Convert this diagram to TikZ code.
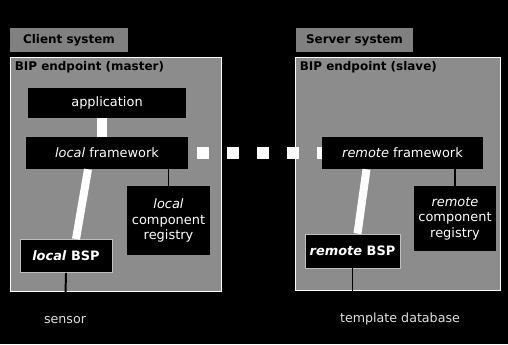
\documentclass[tikz,border=0pt]{standalone}
\usepackage{fontspec}
\setmainfont{DejaVu Sans}
\usetikzlibrary{calc}

\tikzset{
    sysbox/.style={rectangle,fill=black!50,inner sep=0pt,text=black,
        font=\fontsize{8.5}{10}\selectfont\bfseries},
    endpoint/.style={rectangle,draw=white,line width=0.6pt,fill=black!45},
    eptitle/.style={anchor=west,inner sep=0pt,text=black,
        font=\fontsize{8.5}{10}\selectfont\bfseries},
    partbox/.style={rectangle,fill=black,text=white,inner sep=0pt,align=center,
        font=\fontsize{9.2}{11}\selectfont},
    bspbox/.style={partbox,draw=black!25,line width=0.6pt},
    outside/.style={text=black!12,inner sep=1pt,font=\fontsize{9}{11}\selectfont},
    bar/.style={white,line width=5.7pt},
    wire/.style={black,line width=1.4pt},
}

\begin{document}
\begin{tikzpicture}[x=0.025cm,y=-0.025cm]
    \fill[black] (0,0) rectangle (508,344);
    \useasboundingbox (0,0) rectangle (508,344);

    % the two systems
    \node at (69,40) [sysbox,minimum width=2.95cm,minimum height=0.6cm] (client) {Client system};
    \node at (354.5,40) [sysbox,minimum width=2.925cm,minimum height=0.6cm] (server) {Server system};
    \node at (115.5,174) [endpoint,minimum width=5.275cm,minimum height=5.85cm] (master) {};
    \node at (397.5,173.5) [endpoint,minimum width=5.125cm,minimum height=5.825cm] (slave) {};
    \node at ($(master.north west)+(5,11)$) [eptitle] (mastertitle) {BIP endpoint (master)};
    \node at ($(slave.north west)+(5,11)$) [eptitle] (slavetitle) {BIP endpoint (slave)};

    % client side
    \node at (107,103) [partbox,minimum width=3.95cm,minimum height=0.75cm] (application) {application};
    \node at (107,153) [partbox,minimum width=4.05cm,minimum height=0.8cm] (localfw) {\textit{local} framework};
    \node at (66,256) [bspbox,minimum width=2.3cm,minimum height=0.825cm] (localbsp) {\textbf{\textit{local} BSP}};
    \node at (168.5,220.5) [partbox,minimum width=2.075cm,minimum height=1.725cm] (localreg) {\textit{local}\\component\\registry};
    \node at (65,320) [outside] (sensor) {sensor};

    % server side
    \node at (402.5,153) [partbox,minimum width=4.025cm,minimum height=0.8cm] (remotefw) {\textit{remote} framework};
    \node at (352.5,251) [bspbox,minimum width=2.375cm,minimum height=0.85cm] (remotebsp) {\textbf{\textit{remote} BSP}};
    \node at (455,218.5) [partbox,minimum width=2.05cm,minimum height=1.625cm] (remotereg) {\textit{remote}\\component\\registry};
    \node at (400,319) [outside] (template) {template database};

    % links
    \draw[white,line width=7pt] ($(application.south)+(-5,0)$) -- ($(localfw.north)+(-5,0)$);
    \draw[bar] ($(localfw.south)+(-19,0)$) -- ($(localbsp.north)+(10,0)$);
    \draw[wire] (localfw.south -| localreg.north) -- (localreg.north);
    \draw[wire] (localbsp.south) -- (sensor.north);
    \draw[bar] ($(remotefw.south)+(-36,0)$) -- ($(remotebsp.north)+(5,0)$);
    \draw[wire] (remotefw.south -| remotereg.north) -- (remotereg.north);
    \draw[wire] (remotebsp.south) -- (remotebsp.south |- template.north);
    \draw[white,line width=8.5pt,dash pattern=on 8.5pt off 12.8pt,shorten <=6.4pt] (localfw.east) -- (remotefw.west);
\end{tikzpicture}
\end{document}
